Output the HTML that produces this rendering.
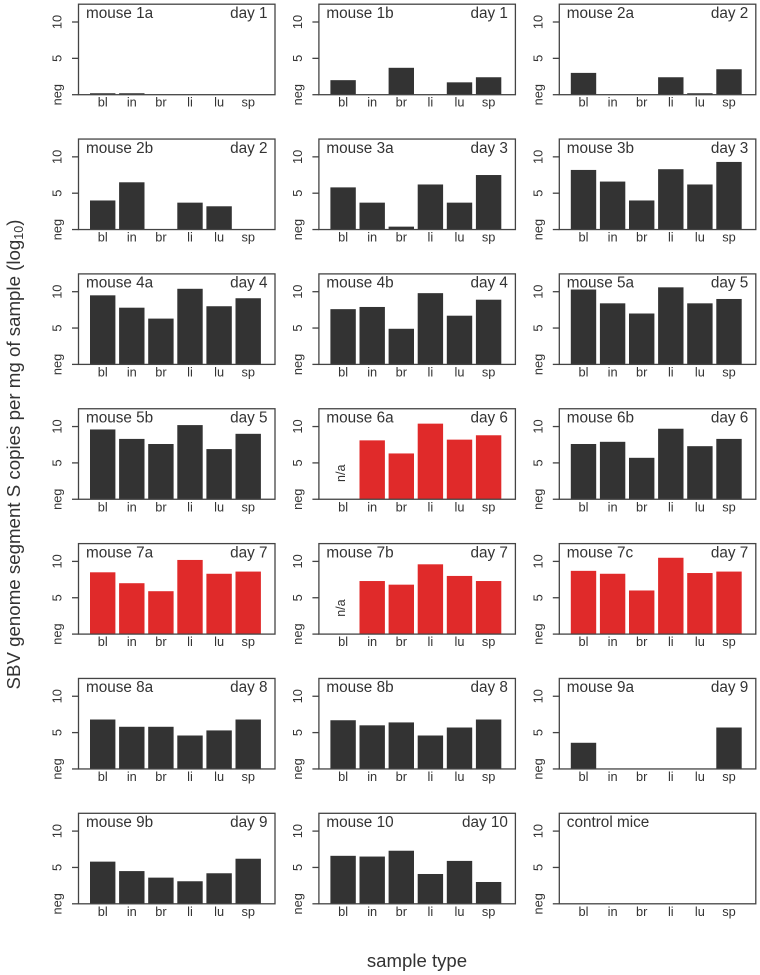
<!DOCTYPE html>
<html lang="en">
<head>
<meta charset="utf-8">
<title>SBV genome copies by sample type</title>
<style>
  html, body { margin: 0; padding: 0; background: #fff; }
  svg { display: block; font-family: "Liberation Sans", Arial, sans-serif; fill: #333; }
</style>
</head>
<body>
<svg id="chart" xmlns="http://www.w3.org/2000/svg" width="760" height="975" viewBox="0 0 760 975">
  <text transform="translate(20,454.5) rotate(-90)" text-anchor="middle" font-size="18.7" fill="#333">SBV genome segment S copies per mg of sample (log<tspan font-size="12.5" dy="3">10</tspan><tspan dy="-3">)</tspan></text>
  <text x="417" y="967" text-anchor="middle" font-size="18.6" fill="#333">sample type</text>
</svg>
<script>
const categories = ["bl", "in", "br", "li", "lu", "sp"];
const yTickValues = [0, 5, 10];
const yTickLabels = ["neg", "5", "10"];
const panelTitles = ["mouse 1a","mouse 1b","mouse 2a","mouse 2b","mouse 3a","mouse 3b","mouse 4a","mouse 4b","mouse 5a","mouse 5b","mouse 6a","mouse 6b","mouse 7a","mouse 7b","mouse 7c","mouse 8a","mouse 8b","mouse 9a","mouse 9b","mouse 10","control mice"];
const panelDays = ["day 1","day 1","day 2","day 2","day 3","day 3","day 4","day 4","day 5","day 5","day 6","day 6","day 7","day 7","day 7","day 8","day 8","day 9","day 9","day 10",""];
const highlighted = ["mouse 6a","mouse 7a","mouse 7b","mouse 7c"];

const mouse1a = [0.2, 0.2, 0, 0, 0, 0];
const mouse1b = [2.0, 0, 3.7, 0, 1.7, 2.4];
const mouse2a = [3.0, 0, 0, 2.4, 0.2, 3.5];
const mouse2b = [4.0, 6.5, 0, 3.7, 3.2, 0];
const mouse3a = [5.8, 3.7, 0.4, 6.2, 3.7, 7.5];
const mouse3b = [8.2, 6.6, 4.0, 8.3, 6.2, 9.3];
const mouse4a = [9.5, 7.8, 6.3, 10.4, 8.0, 9.1];
const mouse4b = [7.6, 7.9, 4.9, 9.8, 6.7, 8.9];
const mouse5a = [10.3, 8.4, 7.0, 10.6, 8.4, 9.0];
const mouse5b = [9.6, 8.3, 7.6, 10.2, 6.9, 9.0];
const mouse6a = [null, 8.1, 6.3, 10.4, 8.2, 8.8];
const mouse6b = [7.6, 7.9, 5.7, 9.7, 7.3, 8.3];
const mouse7a = [8.5, 7.0, 5.9, 10.2, 8.3, 8.6];
const mouse7b = [null, 7.3, 6.8, 9.6, 8.0, 7.3];
const mouse7c = [8.7, 8.3, 6.0, 10.5, 8.4, 8.6];
const mouse8a = [6.8, 5.8, 5.8, 4.6, 5.3, 6.8];
const mouse8b = [6.7, 6.0, 6.4, 4.6, 5.7, 6.8];
const mouse9a = [3.6, 0, 0, 0, 0, 5.7];
const mouse9b = [5.8, 4.5, 3.6, 3.1, 4.2, 6.2];
const mouse10 = [6.6, 6.5, 7.3, 4.1, 5.9, 3.0];
const controlMice = [0, 0, 0, 0, 0, 0];
const panelSeries = [mouse1a, mouse1b, mouse2a, mouse2b, mouse3a, mouse3b, mouse4a, mouse4b, mouse5a, mouse5b, mouse6a, mouse6b, mouse7a, mouse7b, mouse7c, mouse8a, mouse8b, mouse9a, mouse9b, mouse10, controlMice];

const SVG_NS = "http://www.w3.org/2000/svg";
const chart = document.getElementById("chart");
const COL_LEFT = 78.5, COL_STEP = 240.4, PANEL_W = 196.5;
const ROW_TOP = 4.2, ROW_STEP = 134.85, PANEL_H = 90.5;
const UNIT_PX = 7.27, FIRST_BAR_CENTER = 24.2, BAR_STEP = 29.1, BAR_W = 25.4;
const INK = "#333333", RED = "#e02a2a", FRAME = "#444444";

function xScale(i) { return FIRST_BAR_CENTER + i * BAR_STEP; }
function yScale(v) { return PANEL_H - v * UNIT_PX; }
function slug(s) { return s.replace(/\s+/g, "-"); }

function make(tag, attrs, parent) {
  const el = document.createElementNS(SVG_NS, tag);
  for (const k in attrs) el.setAttribute(k, attrs[k]);
  parent.appendChild(el);
  return el;
}

panelTitles.forEach(function (title, p) {
  const col = p % 3, row = Math.floor(p / 3);
  const g = make("g", { transform: "translate(" + (COL_LEFT + col * COL_STEP) + "," + (ROW_TOP + row * ROW_STEP) + ")" }, chart);
  
  

  const color = highlighted.includes(title) ? RED : INK;
  panelSeries[p].forEach(function (v, i) {
    if (v === null) {
      const na = make("text", { transform: "translate(" + (xScale(i) + 2) + "," + (PANEL_H - 26) + ") rotate(-90)", "text-anchor": "middle", "font-size": 12.5, fill: INK }, g);
      
      
      na.textContent = "n/a";
      return;
    }
    if (v <= 0) return;
    const bar = make("rect", { x: xScale(i) - BAR_W / 2, y: yScale(v), width: BAR_W, height: PANEL_H - yScale(v), fill: color }, g);
    
    
  });

  const frame = make("rect", { x: 0, y: 0, width: PANEL_W, height: PANEL_H, fill: "none", stroke: FRAME, "stroke-width": 1.3 }, g);
  
  

  yTickValues.forEach(function (v, i) {
    const tick = make("line", { x1: -6.5, x2: 0, y1: yScale(v), y2: yScale(v), stroke: FRAME, "stroke-width": 1.3 }, g);
    
    
    const label = make("text", { transform: "translate(-17," + yScale(v) + ") rotate(-90)", "text-anchor": "middle", "font-size": 12.8, fill: INK }, g);
    
    
    label.textContent = yTickLabels[i];
  });

  categories.forEach(function (c, i) {
    const label = make("text", { x: xScale(i), y: PANEL_H + 12, "text-anchor": "middle", "font-size": 12.8, fill: INK }, g);
    
    
    label.textContent = c;
  });

  const titleEl = make("text", { x: 7.5, y: 13.8, "font-size": 15.3, fill: INK }, g);
  
  
  titleEl.textContent = title;

  if (panelDays[p]) {
    const dayEl = make("text", { x: PANEL_W - 7.5, y: 13.8, "text-anchor": "end", "font-size": 15.3, fill: INK }, g);
    
    
    dayEl.textContent = panelDays[p];
  }
});
</script>
</body>
</html>
